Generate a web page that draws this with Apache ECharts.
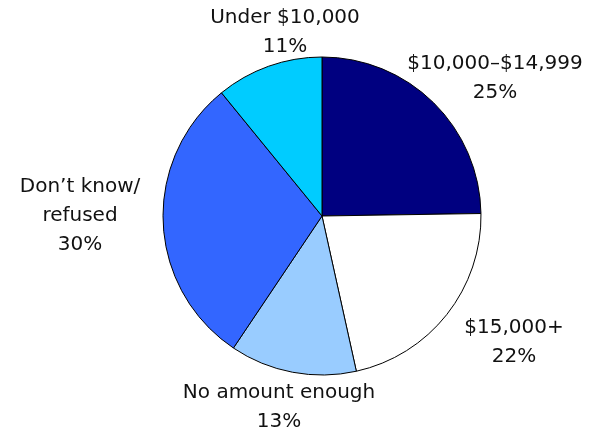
<!DOCTYPE html>
<html>
<head>
<meta charset="utf-8">
<script src="https://cdn.jsdelivr.net/npm/echarts@6/dist/echarts.min.js"></script>
<style>html,body{margin:0;padding:0;background:#fff}#c{width:608px;height:436px}</style>
</head>
<body>
<div id="c"></div>
<script>
var categories = ['$10,000–$14,999', '$15,000+', 'No amount enough', 'Don’t know/\nrefused', 'Under $10,000'];
var values = [25, 22, 13, 30, 11];
var colors = ['#000080', '#FFFFFF', '#99CCFF', '#3366FF', '#00CCFF'];
// label centres (layout only)
var labelPos = [[495, 78], [514, 342], [279, 407], [80, 216], [285, 32]];

var chart = echarts.init(document.getElementById('c'), null, {renderer: 'canvas'});
chart.setOption({
  animation: false,
  backgroundColor: '#fff',
  series: [{
    type: 'pie',
    center: [322, 216],
    radius: [0, 159],
    startAngle: 90,
    clockwise: true,
    avoidLabelOverlap: false,
    data: categories.map(function (n, i) {
      return {name: n, value: values[i], itemStyle: {color: colors[i]}};
    }),
    itemStyle: {borderColor: '#000', borderWidth: 1},
    label: {
      show: true,
      position: 'outside',
      formatter: '{b}\n{c}%',
      fontFamily: 'DejaVu Sans',
      fontSize: 20,
      lineHeight: 29,
      color: '#111',
      align: 'center',
      overflow: 'none',
      width: 300
    },
    labelLine: {show: false},
    labelLayout: function (p) {
      var pos = labelPos[p.dataIndex];
      return {x: pos[0], y: pos[1], align: 'center', verticalAlign: 'middle'};
    },
    emphasis: {disabled: true}
  }]
});
</script>
</body>
</html>
